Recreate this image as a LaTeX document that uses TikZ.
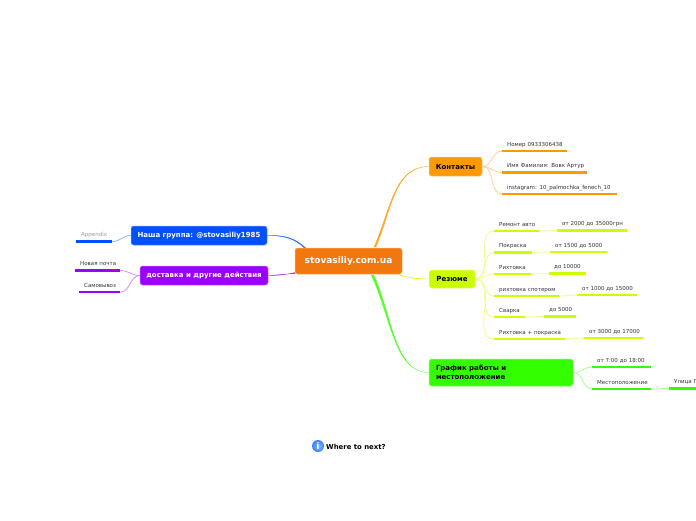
\documentclass[tikz,border=0pt]{standalone}
\usepackage{fontspec}
\usetikzlibrary{backgrounds}
\setmainfont{DejaVu Sans}
\definecolor{rootcol}{HTML}{F0780F}
\definecolor{kontcol}{HTML}{FF9900}
\definecolor{rezcol}{HTML}{CCFF00}
\definecolor{grafcol}{HTML}{33FF00}
\definecolor{grpcol}{HTML}{0050FF}
\definecolor{dostcol}{HTML}{9900FF}
\tikzset{
	topic/.style={draw=#1!55, fill=#1, rounded corners=2.5pt, line width=0.5pt, inner sep=0pt, font=\fontsize{7}{9}\selectfont\bfseries},
	leaf/.style 2 args={anchor=south west, inner xsep=5pt, inner ysep=3pt, text width=#1pt-10pt, text height=5pt, text depth=1.5pt, text=black!80,
		font=\fontsize{5.5}{6}\selectfont,
		execute at begin node={\hbox to 0pt\bgroup}, execute at end node={\hss\egroup},
		append after command={(\tikzlastnode.south west) edge[draw=#2, line width=2.3pt] (\tikzlastnode.south east)}},
	branch/.style={draw=#1!40, line width=0.9pt},
	hub/.style={draw=#1!85, fill=#1!85, line width=0.25pt}
}
\begin{document}
\begin{tikzpicture}[x=1pt, y=-1pt]
		\useasboundingbox (0,0) rectangle (696,520);
		\clip (0,0) rectangle (696,520);

		% topics
		\node[topic=rootcol, minimum width=107pt, minimum height=26pt, text=white, font=\fontsize{9}{11}\selectfont\bfseries] (root) at (348.5,261) {stovasiliy.com.ua};
		\node[topic=kontcol, minimum width=53pt, minimum height=19pt] (kont) at (455.5,166.5) {Контакты};
		\node[topic=rezcol, minimum width=46pt, minimum height=18pt] (rez) at (452,279) {Резюме};
		\node[topic=grafcol, minimum width=144pt, minimum height=27pt, align=left, text width=130pt] (graf) at (501,372.5) {График работы и\\местоположение};
		\node[topic=grpcol, minimum width=136pt, minimum height=19pt, text=white] (grp) at (199,235.5) {Наша группа: @stovasiliy1985};
		\node[topic=dostcol, minimum width=128pt, minimum height=19pt, text=white] (dost) at (204,275.5) {доставка и другие действия};

		% contacts
		\node[leaf={65}{kontcol}] (nomer) at (502,151) {Номер 0933306438};
		\node[leaf={85}{kontcol}] (imya) at (502,172.5) {Имя Фамилия: Вовк Артур};
		\node[leaf={115}{kontcol}] (insta) at (502,194) {instagram: 10\_palmochka\_fenech\_10};

		% resume
		\node[leaf={45}{rezcol}] (remont) at (494,231) {Ремонт авто};
		\node[leaf={70}{rezcol}] (remontv) at (557,230.5) {от 2000 до 35000грн};
		\node[leaf={38}{rezcol}] (pokr) at (494,252.5) {Покраска};
		\node[leaf={57}{rezcol}] (pokrv) at (550,252) {от 1500 до 5000};
		\node[leaf={37}{rezcol}] (riht) at (494,274) {Рихтовка};
		\node[leaf={37}{rezcol}] (rihtv) at (549,273.5) {до 10000};
		\node[leaf={65}{rezcol}] (spot) at (494,296) {рихтовка спотером};
		\node[leaf={60}{rezcol}] (spotv) at (577,295) {от 1000 до 15000};
		\node[leaf={31}{rezcol}] (svar) at (494,317) {Сварка};
		\node[leaf={32}{rezcol}] (svarv) at (544,316.5) {до 5000};
		\node[leaf={71}{rezcol}] (rpokr) at (494,339) {Рихтовка + покраска};
		\node[leaf={59}{rezcol}] (rpokrv) at (584,338) {от 3000 до 17000};

		% schedule
		\node[leaf={59}{grafcol}] (time) at (592,367) {от 7:00 до 18:00};
		\node[leaf={59}{grafcol}] (mesto) at (592,389) {Местоположение};
		\node[leaf={40}{grafcol}] (ulica) at (669,388.5) {Улица П};

		% left side
		\node[leaf={36}{grpcol}, text=black!40] (app) at (76,241.5) {Appendix};
		\node[leaf={45}{dostcol}] (pochta) at (75,270.5) {Новая почта};
		\node[leaf={41}{dostcol}] (samo) at (79,292) {Самовывоз};

		% main branches, thick at the root
		\coordinate (rk) at (375,247);
		\coordinate (rg) at (372.5,275);
		\coordinate (rr) at (400,275);
		\coordinate (rb) at (305,248);
		\coordinate (rd) at (295,273);
		\begin{scope}[on background layer]
		\draw[hub=kontcol] ([xshift=-1pt]rk) .. controls (391.4,207) and (394,167) .. (kont.west) .. controls (394.6,167.3) and (392.6,207) .. ([xshift=1pt]rk) -- cycle;
		\draw[hub=grafcol] ([xshift=-1.3pt]rg) .. controls (391.3,318) and (394,372) .. (graf.west) .. controls (394.7,372.4) and (392.9,318) .. ([xshift=1.3pt]rg) -- cycle;
		\draw[hub=rezcol] ([yshift=-0.5pt]rr) .. controls (410,278) and (418,278.5) .. (rez.west) .. controls (418,279) and (410,278.8) .. ([yshift=0.5pt]rr) -- cycle;
		\draw[hub=grpcol] ([xshift=0.7pt]rb) .. controls (295,238) and (285,235) .. (grp.east) .. controls (285,235.5) and (295,238.8) .. ([xshift=-0.7pt]rb) -- cycle;
		\draw[hub=dostcol] ([yshift=-0.5pt]rd) .. controls (285,274) and (278,275) .. (dost.east) .. controls (278,275.5) and (285,274.8) .. ([yshift=0.5pt]rd) -- cycle;
		\end{scope}

		% leaf branches
		\foreach \a in {nomer, imya, insta}
			\draw[branch=kontcol] (kont.east) to[out=0, in=180] (\a.south west);
		\foreach \a in {remont, pokr, riht, spot, svar, rpokr}
			\draw[branch=rezcol] (rez.east) to[out=0, in=180] (\a.south west);
		\foreach \a/\b in {remont/remontv, pokr/pokrv, riht/rihtv, spot/spotv, svar/svarv, rpokr/rpokrv}
			\draw[branch=rezcol] (\a.south east) to[out=0, in=180] (\b.south west);
		\foreach \a in {time, mesto}
			\draw[branch=grafcol] (graf.east) to[out=0, in=180] (\a.south west);
		\draw[branch=grafcol] (mesto.south east) to[out=0, in=180] (ulica.south west);
		\draw[branch=grpcol] (grp.west) to[out=180, in=0] (app.south east);
		\foreach \a in {pochta, samo}
			\draw[branch=dostcol] (dost.west) to[out=180, in=0] (\a.south east);

		% where to next
		\node[circle, minimum size=12pt, inner sep=0pt, shade, inner color=cyan!30!grpcol!50, outer color=grpcol!75, text=white, font=\fontsize{9}{9}\selectfont\bfseries] (info) at (318,446) {i};
		\node[right=0pt, inner sep=0pt, font=\fontsize{6.9}{8}\selectfont\bfseries] (next) at (326,446.5) {Where to next?};
	\end{tikzpicture}
\end{document}
